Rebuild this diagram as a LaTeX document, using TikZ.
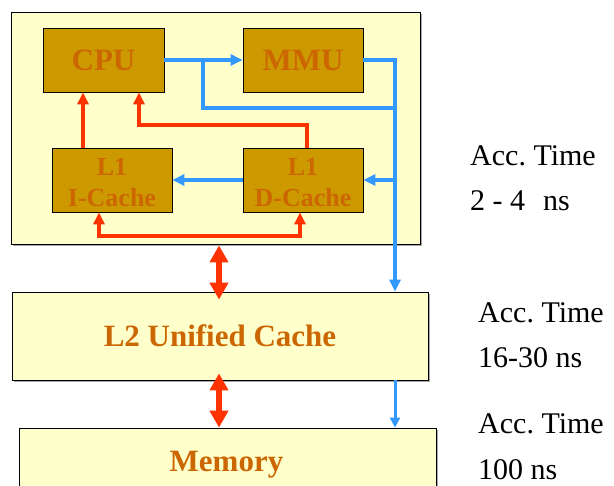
\documentclass[tikz,border=0pt]{standalone}
\usepackage{fontspec}
\setmainfont{Liberation Serif}
\usetikzlibrary{arrows.meta}
\definecolor{paleyellow}{HTML}{FFFFCC}
\definecolor{gold}{HTML}{CC9900}
\definecolor{rust}{HTML}{CC6600}
\definecolor{hotred}{HTML}{FF3300}
\definecolor{skyblue}{HTML}{3399FF}
\frenchspacing
\tikzset{
  x=1pt, y=-1pt,
  unitbox/.style={draw=black, line width=0.8pt, fill=gold, minimum width=120pt,
    minimum height=64pt, inner sep=0pt, text=rust, align=center,
    font=\bfseries\fontsize{31}{31}\selectfont},
  cachetext/.style={text=rust, inner sep=0pt, align=center,
    font=\bfseries\fontsize{26}{31}\selectfont},
  levelbox/.style={draw=black, line width=0.8pt, fill=paleyellow, inner sep=0pt},
  shade/.style={fill=black!35, draw=none},
  levellabel/.style={text=rust, inner sep=0pt, font=\bfseries\fontsize{31}{31}\selectfont},
  timing/.style={anchor=base west, inner sep=0pt, font=\fontsize{30}{30}\selectfont},
  addr/.style={draw=skyblue, line width=4pt, -{Triangle[length=12pt,width=11pt]}},
  addrline/.style={draw=skyblue, line width=4pt},
  thinaddr/.style={draw=skyblue, line width=3pt, -{Triangle[length=10pt,width=10pt]}},
  data/.style={draw=hotred, line width=4pt, -{Triangle[length=12pt,width=11pt]}},
  databoth/.style={draw=hotred, line width=4pt, {Triangle[length=12pt,width=11pt]}-{Triangle[length=12pt,width=11pt]}},
  bus/.style={draw=hotred, line width=6pt, {Triangle[length=17pt,width=18pt]}-{Triangle[length=17pt,width=18pt]}},
}
\begin{document}
\begin{tikzpicture}
\useasboundingbox (0,0) rectangle (614,486);
\clip (0,0) rectangle (614,486);

% processor chip with its cache level
\fill[shade] (13,14) rectangle (422,246);
\node[levelbox, minimum width=409pt, minimum height=232pt] (chip) at (215.5,128) {};

\node[unitbox, minimum width=121pt] (cpu) at (103.5,60) {CPU};
\node[unitbox] (mmu) at (303,60) {MMU};
\node[unitbox] (icache) at (112,180) {};
\node[unitbox] (dcache) at (303,180) {};
\node[cachetext] (ilabel) at (112,182.5) {L1\\I-Cache};
\node[cachetext] (dlabel) at (303,182.5) {L1\\D-Cache};

% second level cache and main memory
\fill[shade] (14,294) rectangle (430,382);
\node[levelbox, minimum width=416pt, minimum height=88pt] (l2) at (220,336) {};
\node[levellabel] (l2label) at (220,336) {L2 Unified Cache};
\fill[shade] (21,430) rectangle (438,530);
\node[levelbox, minimum width=417pt, minimum height=100pt] (mem) at (227.5,478) {};
\node[levellabel, anchor=base] (memlabel) at (226.5,472) {Memory};

% access times
\node[timing] (t1a) at (470,166) {Acc. Time};
\node[timing] (t1b) at (470,211) {2 - 4\hspace{0.6em}ns};
\node[timing] (t2a) at (478,323) {Acc. Time};
\node[timing] (t2b) at (478,368) {16-30 ns};
\node[timing] (t3a) at (478,434) {Acc. Time};
\node[timing] (t3b) at (478,480) {100 ns};

% reference points of the wiring
\coordinate (vbus) at (395,0);
\coordinate (split) at (203,60);
\coordinate (hbus) at (395,108);
\coordinate (iup) at (83,0);
\coordinate (dup) at (307,0);
\coordinate (dturn) at (139,125);
\coordinate (ifill) at (99,0);
\coordinate (dfill) at (300,0);
\coordinate (fillbus) at (0,236);
\coordinate (bigbus) at (219,0);

% address paths
\draw[addr] (cpu.east) -- (mmu.west);
\draw[addrline] (split) |- (hbus);
\draw[addr] (mmu.east) -| (l2.north -| vbus);
\draw[addr] (dcache.east -| vbus) -- (dcache.east);
\draw[addr] (dcache.west) -- (icache.east);
\draw[thinaddr] (l2.south -| vbus) -- (mem.north -| vbus);

% data paths
\draw[data] (icache.north -| iup) -- (cpu.south -| iup);
\draw[data] (dcache.north -| dup) |- (dturn) -- (cpu.south -| dturn);
\draw[databoth] (icache.south -| ifill) |- (fillbus -| dfill) -- (dcache.south -| dfill);
\draw[bus] ([yshift=-1pt]chip.south -| bigbus) -- ([yshift=-8pt]l2.north -| bigbus);
\draw[bus] ([yshift=7pt]l2.south -| bigbus) -- (mem.north -| bigbus);
\end{tikzpicture}
\end{document}
